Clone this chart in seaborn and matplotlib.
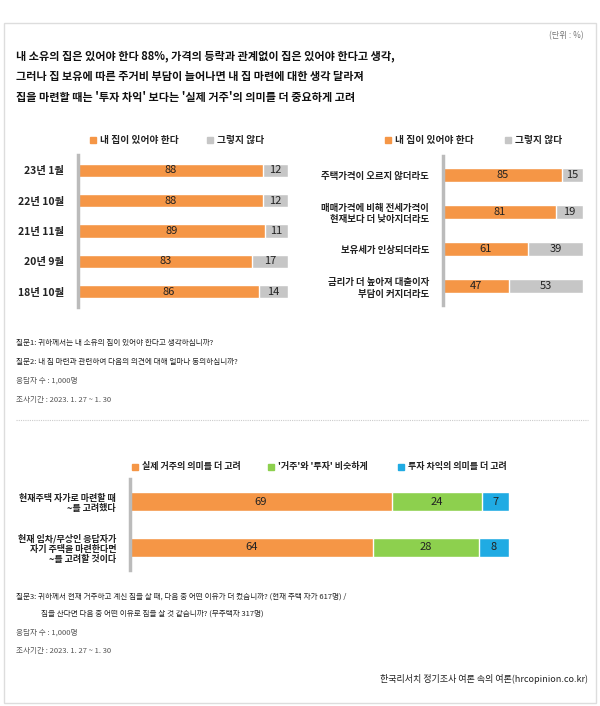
import numpy as np
import pandas as pd
import seaborn as sns
import matplotlib.pyplot as plt
from matplotlib.patches import Rectangle

# data
trend_labels = ['23년 1월', '22년 10월', '21년 11월', '20년 9월', '18년 10월']
trend_yes = [88, 88, 89, 83, 86]
trend_no = [12, 12, 11, 17, 14]

cond_labels = ['주택가격이 오르지 않더라도', '매매가격에 비해 전세가격이\n현재보다 더 낮아지더라도',
               '보유세가 인상되더라도', '금리가 더 높아져 대출이자\n부담이 커지더라도']
cond_yes = [85, 81, 61, 47]
cond_no = [15, 19, 39, 53]

purpose_labels = ['현재주택 자가로 마련할 때\n~를 고려했다', '현재 임차/무상인 응답자가\n자기 주택을 마련한다면\n~를 고려할 것이다']
purpose_live = [69, 64]
purpose_both = [24, 28]
purpose_invest = [7, 8]

legend_top = ['내 집이 있어야 한다', '그렇지 않다']
legend_bottom = ['실제 거주의 의미를 더 고려', "'거주'와 '투자' 비슷하게", '투자 차익의 의미를 더 고려']

ORANGE = '#F59646'
GRAY = '#C6C6C6'
GREEN = '#8DD04E'
BLUE = '#20ABE3'
TXT = '#222222'

sns.set_style('white')
plt.rcParams['font.family'] = ['Noto Sans CJK KR', 'DejaVu Sans']

W, H = 600, 706
fig = plt.figure(figsize=(W / 100, H / 100), dpi=100)


def P(x, y):
    return x / W, 1 - y / H


def add_ax(x0, y0, x1, y1):
    return fig.add_axes([x0 / W, 1 - y1 / H, (x1 - x0) / W, (y1 - y0) / H])


def ftext(x, y, s, **kw):
    kw.setdefault('color', TXT)
    kw.setdefault('va', 'center')
    fig.text(*P(x, y), s, **kw)


# card border
fig.patches.append(Rectangle(P(4, 703), 592 / W, 680 / H, transform=fig.transFigure,
                             fill=False, edgecolor='#DDDDDD', linewidth=1))

ftext(584, 36, '(단위 : %)', ha='right', fontsize=6, color='#777777')
title = ['내 소유의 집은 있어야 한다 88%, 가격의 등락과 관계없이 집은 있어야 한다고 생각,',
         '그러나 집 보유에 따른 주거비 부담이 늘어나면 내 집 마련에 대한 생각 달라져',
         "집을 마련할 때는 '투자 차익' 보다는 '실제 거주'의 의미를 더 중요하게 고려"]
for i, line in enumerate(title):
    ftext(16, 56 + i * 20.5, line, fontsize=8, fontweight='bold', color='#111111')


def stacked(ax, labels, parts, colors, height, fs_val, fs_lab):
    df = pd.DataFrame({'label': labels})
    cum = np.zeros(len(labels))
    cols = []
    for i, p in enumerate(parts):
        cum = cum + np.array(p)
        df[f'c{i}'] = cum
        cols.append(f'c{i}')
    # draw largest cumulative first so earlier segments overlay
    for i in reversed(range(len(parts))):
        sns.barplot(data=df, x=cols[i], y='label', orient='h', color=colors[i],
                    width=height, edgecolor='white', linewidth=1, saturation=1, ax=ax)
    for r in range(len(labels)):
        start = 0
        for i, p in enumerate(parts):
            ax.text(start + p[r] / 2, r, str(p[r]), ha='center', va='center',
                    fontsize=fs_val, color=TXT)
            start += p[r]
    ax.set_xlim(0, 100)
    ax.set_xlabel('')
    ax.set_ylabel('')
    ax.set_xticks([])
    ax.tick_params(axis='y', length=0, pad=10, labelsize=fs_lab)
    for t in ax.get_yticklabels():
        t.set_fontweight('bold')
        t.set_color(TXT)
        t.set_multialignment('right')
    for s in ['top', 'right', 'bottom']:
        ax.spines[s].set_visible(False)
    ax.spines['left'].set_color('#BBBBBB')
    ax.spines['left'].set_linewidth(2.5)
    ax.set_facecolor('none')


def legend(items, xs, y, colors, fs):
    for lab, x, c in zip(items, xs, colors):
        fig.patches.append(Rectangle(P(x, y + 3), 6 / W, 6 / H, transform=fig.transFigure,
                                     color=c))
        ftext(x + 10, y, lab, fontsize=fs, fontweight='bold')


# chart 1
ax1 = add_ax(78, 155, 288, 307)
stacked(ax1, trend_labels, [trend_yes, trend_no], [ORANGE, GRAY], 0.43, 8, 7.5)
legend(legend_top, [90, 207], 140, [ORANGE, GRAY], 7)

# chart 2
ax2 = add_ax(443, 156, 583, 305)
stacked(ax2, cond_labels, [cond_yes, cond_no], [ORANGE, GRAY], 0.38, 8, 6.8)
legend(legend_top, [385, 505], 140, [ORANGE, GRAY], 7)

# notes 1
notes1 = ['질문1: 귀하께서는 내 소유의 집이 있어야 한다고 생각하십니까?',
          '질문2: 내 집 마련과 관련하여 다음의 의견에 대해 얼마나 동의하십니까?']
for i, s in enumerate(notes1):
    ftext(16, 343 + i * 19, s, fontsize=5.5)
ftext(16, 381, '응답자 수 : 1,000명', fontsize=5.5, color='#555555')
ftext(16, 400, '조사기간 : 2023. 1. 27 ~ 1. 30', fontsize=5.5, color='#555555')

fig.add_artist(plt.Line2D([16 / W, 588 / W], [1 - 420 / H] * 2, transform=fig.transFigure,
                          color='#CCCCCC', linewidth=0.8, linestyle=(0, (1, 1))))

# chart 3
ax3 = add_ax(130, 479, 509, 570)
stacked(ax3, purpose_labels, [purpose_live, purpose_both, purpose_invest],
        [ORANGE, GREEN, BLUE], 0.42, 8, 6.5)
legend(legend_bottom, [132, 268, 398], 467, [ORANGE, GREEN, BLUE], 6.5)

# notes 2
ftext(16, 597, '질문3: 귀하께서 현재 거주하고 계신 집을 살 때, 다음 중 어떤 이유가 더 컸습니까? (현재 주택 자가 617명) /',
      fontsize=5.5)
ftext(41, 614, '집을 산다면 다음 중 어떤 이유로 집을 살 것 같습니까? (무주택자 317명)', fontsize=5.5)
ftext(16, 633, '응답자 수 : 1,000명', fontsize=5.5, color='#555555')
ftext(16, 651, '조사기간 : 2023. 1. 27 ~ 1. 30', fontsize=5.5, color='#555555')
ftext(588, 679, '한국리서치 정기조사 여론 속의 여론(hrcopinion.co.kr)', ha='right', fontsize=6.5)

fig.savefig('out.png', dpi=100, facecolor='white')
